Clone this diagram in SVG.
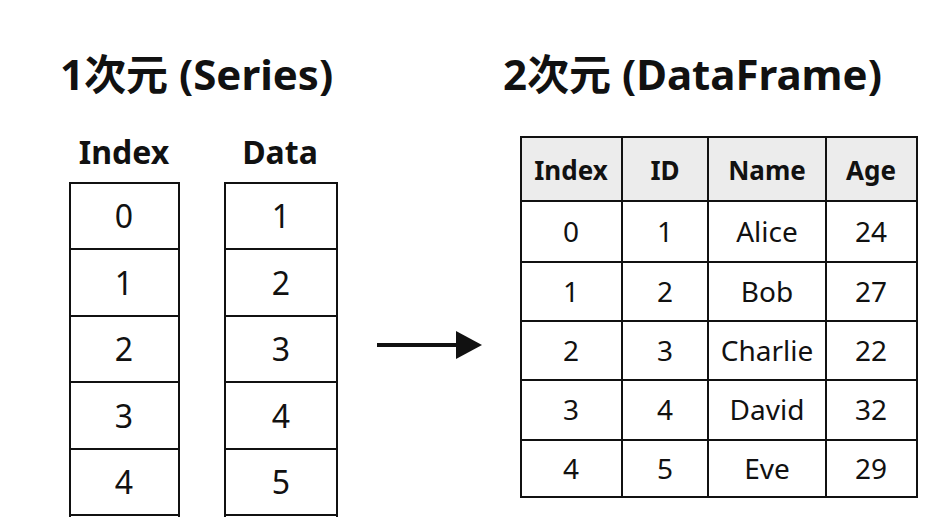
<svg xmlns="http://www.w3.org/2000/svg" width="945" height="517" viewBox="0 0 945 517">
<style>
text{font-family:"Noto Sans","Noto Sans CJK JP",sans-serif;text-anchor:middle;fill:#111}
.t{font-size:42px;font-weight:bold;text-anchor:start}
.h{font-size:32px;font-weight:bold}
.c{font-size:28px}
.s{font-size:32px}
.hc{font-size:26px;font-weight:bold}
.b{fill:#fff;stroke:#111;stroke-width:2}
.l{stroke:#111;stroke-width:2}
</style>
<rect width="945" height="517" fill="#fff"/>
<text class="t" x="60" y="90">1次元 (Series)</text>
<text class="t" x="503" y="90">2次元 (DataFrame)</text>
<g id="series-index">
<text class="h" x="124" y="164">Index</text>
<rect class="b" x="70" y="183" width="109" height="340"/>
<path class="l" d="M70 249H179M70 316H179M70 382H179M70 449H179M70 515H179"/>
<text class="s" x="124" y="228">0</text><text class="s" x="124" y="295">1</text><text class="s" x="124" y="361">2</text><text class="s" x="124" y="428">3</text><text class="s" x="124" y="494">4</text>
</g>
<g id="series-data">
<text class="h" x="280" y="164">Data</text>
<rect class="b" x="225" y="183" width="112" height="340"/>
<path class="l" d="M225 249H337M225 316H337M225 382H337M225 449H337M225 515H337"/>
<text class="s" x="281" y="228">1</text><text class="s" x="281" y="295">2</text><text class="s" x="281" y="361">3</text><text class="s" x="281" y="428">4</text><text class="s" x="281" y="494">5</text>
</g>
<g id="connectors">
<path d="M377 345H458" stroke="#111" stroke-width="4"/>
<path d="M482 345L456 331V359Z" fill="#111"/>
</g>
<g id="dataframe">
<rect x="521" y="137" width="396" height="64" fill="#ececec"/>
<rect x="521" y="137" width="396" height="360" fill="none" stroke="#111" stroke-width="2"/>
<path class="l" d="M622 137V497M708 137V497M826 137V497M521 201H917M521 262H917M521 321H917M521 380H917M521 440H917"/>
<text class="hc" x="571" y="180">Index</text><text class="hc" x="665" y="180">ID</text><text class="hc" x="767" y="180">Name</text><text class="hc" x="871" y="180">Age</text>
<text class="c" x="571" y="242">0</text><text class="c" x="665" y="242">1</text><text class="c" x="767" y="242">Alice</text><text class="c" x="871" y="242">24</text>
<text class="c" x="571" y="302">1</text><text class="c" x="665" y="302">2</text><text class="c" x="767" y="302">Bob</text><text class="c" x="871" y="302">27</text>
<text class="c" x="571" y="361">2</text><text class="c" x="665" y="361">3</text><text class="c" x="767" y="361">Charlie</text><text class="c" x="871" y="361">22</text>
<text class="c" x="571" y="420">3</text><text class="c" x="665" y="420">4</text><text class="c" x="767" y="420">David</text><text class="c" x="871" y="420">32</text>
<text class="c" x="571" y="479">4</text><text class="c" x="665" y="479">5</text><text class="c" x="767" y="479">Eve</text><text class="c" x="871" y="479">29</text>
</g>
</svg>
